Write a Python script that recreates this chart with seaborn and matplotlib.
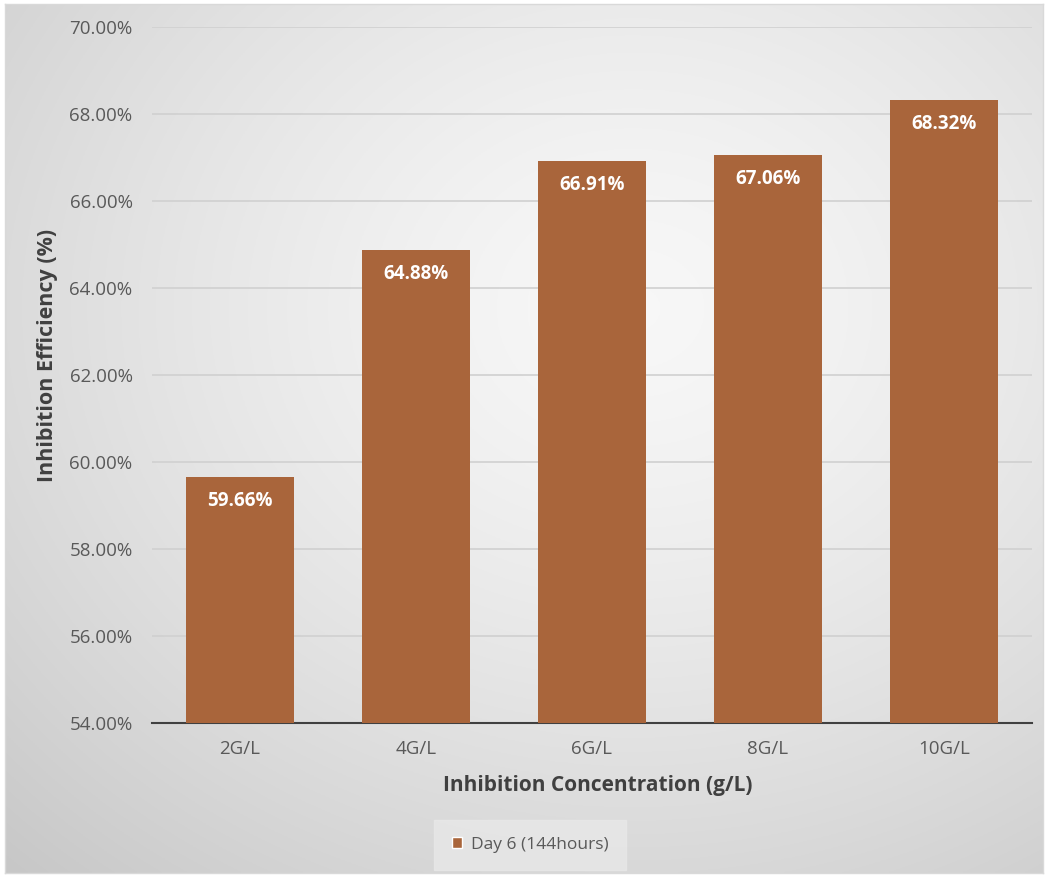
import numpy as np
import pandas as pd
import matplotlib
matplotlib.use("Agg")
import matplotlib.pyplot as plt
import seaborn as sns
from matplotlib.patches import Patch

categories = ["2G/L", "4G/L", "6G/L", "8G/L", "10G/L"]
values = [59.66, 64.88, 66.91, 67.06, 68.32]
yticks = [54, 56, 58, 60, 62, 64, 66, 68, 70]
series_name = "Day 6 (144hours)"

df = pd.DataFrame({"cat": categories, "val": values})

sns.set_theme(style="white")
plt.rcParams['font.family'] = ['Open Sans', 'DejaVu Sans']

W, H = 1048, 876
fig = plt.figure(figsize=(W / 100, H / 100), dpi=100)
fig.patch.set_facecolor("white")

# radial gradient background
bg = fig.add_axes([0.005, 0.003, 0.99, 0.993], zorder=-5)
yy, xx = np.mgrid[0:400, 0:480]
cx, cy = 290, 140
r = np.sqrt(((xx - cx) / 480) ** 2 + ((yy - cy) / 400) ** 2)
r = r / r.max()
val = 0.97 - 0.19 * r ** 1.4
bg.imshow(np.dstack([val, val, val]), aspect="auto", extent=[0, 1, 0, 1], origin="upper")
bg.set_xticks([]); bg.set_yticks([])
for s in bg.spines.values():
    s.set_color("#d9d9d9"); s.set_linewidth(1)

ax = fig.add_axes([152 / W, 1 - 723 / H, (1032 - 152) / W, (723 - 27) / H])
ax.patch.set_alpha(0)
color = "#A9653B"
sns.barplot(data=df, x="cat", y="val", color=color, width=0.61, ax=ax,
            saturation=1, zorder=3, linewidth=0, edgecolor=color)

ax.set_ylim(54, 70)
ax.set_yticks(yticks)
ax.set_yticklabels([f"{t:.2f}%" for t in yticks], color="#595959", fontsize=13.5)
ax.yaxis.grid(True, color="#d0d0d0", linewidth=1.2, zorder=0)
ax.set_axisbelow(True)
for t in ax.get_xticklabels():
    t.set_color("#595959"); t.set_fontsize(13.5)
ax.tick_params(axis="x", length=0, pad=12)
ax.tick_params(axis="y", length=0, pad=14)
for s in ["top", "right", "left"]:
    ax.spines[s].set_visible(False)
ax.spines["bottom"].set_color("#404040")
ax.spines["bottom"].set_linewidth(1.5)

ax.set_xlabel("Inhibition Concentration (g/L)", fontsize=15, fontweight="bold",
              color="#404040")
ax.set_ylabel("Inhibition Efficiency (%)", fontsize=15.5, fontweight="bold",
              color="#404040")
ax.xaxis.set_label_coords((598 - 152) / 880, (723 - 785) / 696)
ax.yaxis.set_label_coords((48 - 152) / 880, (723 - 355) / 696)
ax.xaxis.label.set_va("center")
ax.yaxis.label.set_va("center")

for i, v in enumerate(values):
    ax.text(i, v - 0.55, f"{v:.2f}%", ha="center", va="center", color="white",
            fontsize=13.5, fontweight="bold", zorder=5)

leg = fig.legend(handles=[Patch(facecolor=color, label=series_name)],
                 loc="center", bbox_to_anchor=(530 / W, 1 - 845 / H),
                 frameon=True, fontsize=12.5, handlelength=0.6, handleheight=0.6,
                 handletextpad=0.5, borderpad=0.7)
leg.get_frame().set_facecolor("#e8e8e8")
leg.get_frame().set_edgecolor("#e8e8e8")
leg.get_frame().set_boxstyle("square")
for t in leg.get_texts():
    t.set_color("#595959")

fig.savefig("out.png", dpi=100)
